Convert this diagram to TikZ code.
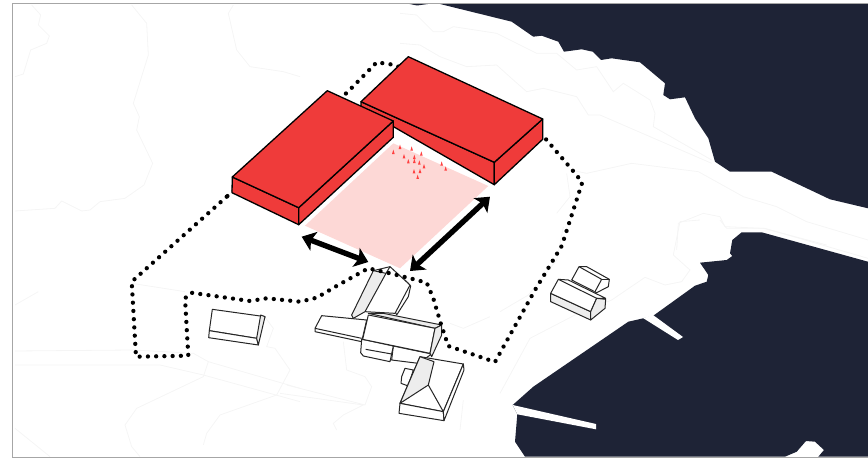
\documentclass[tikz,border=0pt]{standalone}
\usepackage{xcolor}
\usetikzlibrary{arrows.meta}
\definecolor{waterc}{HTML}{1E2336}
\definecolor{blockc}{HTML}{EF3B3A}
\definecolor{plazac}{HTML}{FDD8D6}
\begin{document}
\begin{tikzpicture}[
  x=1pt, y=-1pt,
  frame/.style={draw=black!35, line width=0.8pt},
  water/.style={fill=waterc},
  pier/.style={fill=white},
  contour/.style={draw=black!4, line width=0.8pt},
  block/.style={draw=black, fill=blockc, line width=1.3pt, line join=round},
  house/.style={draw=black!85, fill=white, line width=1pt, line join=round},
  roof/.style={house, fill=black!7},
  route/.style={draw=black, line width=4.3pt, line cap=round, dash pattern=on 0pt off 8.25pt},
  dim/.style={draw=black, line width=5.4pt, {Stealth[length=13pt,width=20pt,inset=3pt]}-{Stealth[length=13pt,width=20pt,inset=3pt]}},
  pers/.style={fill=red!75!white}]
\useasboundingbox (0,0) rectangle (868,460);

\fill[water] (407,3.5) -- (417,5.5) -- (428,4) -- (440,4) -- (511.7,21.7) -- (533.3,36.7) -- (541.7,35.7) -- (558.3,41.7) -- (564,51.7) -- (581.7,49.3) -- (592.7,51.7) -- (601,60) -- (611.7,58.3) -- (640,62.3) -- (665,83.3) -- (663.3,95) -- (670,99.3) -- (685,97.3) -- (695,118.3) -- (708.3,138.3) -- (715,161.7) -- (730,171.7) -- (771.7,171.7) -- (830,199.3) -- (868,208.3) -- (868,3.5) -- cycle;
\fill[water] (868,261.7) -- (761.7,232.3) -- (741.7,232.3) -- (732.3,240) -- (730,253.3) -- (732.3,256) -- (726.7,260) -- (700,262.7) -- (708.3,275) -- (706.7,281.7) -- (695,285.7) -- (653.3,315.7) -- (643.3,318.3) -- (628.3,321.7) -- (533.3,386.7) -- (512.7,405) -- (517.3,414.3) -- (515,441.7) -- (525,456.7) -- (785,456.7) -- (796.7,451.7) -- (806,441) -- (815,441.7) -- (824,450) -- (818.3,456.7) -- (868,456.7) -- cycle;
\fill[pier] (643,318) -- (653,315) -- (683,337) -- (678,340) -- cycle;
\fill[pier] (512.7,405) -- (596,424) -- (596,429.3) -- (517.3,414.3) -- cycle;

\begin{scope}[scale=1/3]
\draw[contour] (45,230) -- (70,222) -- (92,150) -- (140,130) -- (148,108) -- (115,75) -- (122,45) -- (95,15);
\draw[contour] (395,15) -- (440,70) -- (445,165) -- (400,310) -- (418,350) -- (410,390) -- (458,490) -- (432,555) -- (375,595) -- (300,605) -- (270,630) -- (245,633) -- (185,603) -- (165,625) -- (45,633);
\draw[contour] (700,15) -- (685,40) -- (710,150) -- (750,200) -- (850,215) -- (900,230);
\draw[contour] (45,1053) -- (400,1050) -- (580,1060) -- (625,1085) -- (900,1165);
\draw[contour] (45,1095) -- (480,1095) -- (610,1125) -- (900,1205);
\draw[contour] (375,1275) -- (410,1225) -- (610,1130) -- (625,1085);
\draw[contour] (610,1335) -- (620,1300) -- (660,1245) -- (830,1185) -- (870,1110) -- (825,1045) -- (800,1040) -- (820,985) -- (790,945);
\draw[contour] (395,850) -- (555,875);
\draw[contour] (45,915) -- (115,875);
\draw[contour] (45,1285) -- (150,1370);
\draw[contour] (375,1275) -- (395,1340) -- (420,1370);
\end{scope}
\begin{scope}[shift={(200,260)},scale=1/3]
\draw[contour] (240,400) -- (490,435) -- (430,465) -- (400,490) -- (410,510);
\draw[contour] (260,375) -- (495,435) -- (515,380) -- (495,350) -- (440,330) -- (430,245);
\draw[contour] (750,190) -- (790,205) -- (870,170);
\draw[contour] (790,420) -- (780,510);
\end{scope}
\begin{scope}[shift={(500,220)},scale=1/3]
\draw[contour] (0,275) -- (85,225) -- (170,120) -- (190,20);
\draw[contour] (0,520) -- (90,355) -- (225,285) -- (335,240) -- (435,172) -- (495,195) -- (545,185) -- (570,150) -- (520,105) -- (540,5) -- (600,0);
\draw[contour] (660,0) -- (680,25) -- (795,25) -- (1104,115);
\end{scope}
\begin{scope}[shift={(400,0)},scale=1/3]
\draw[contour] (0,40) -- (50,45) -- (100,95) -- (130,95) -- (160,80) -- (290,100) -- (410,160) -- (470,160) -- (530,210) -- (590,200) -- (640,275) -- (670,250) -- (750,300) -- (765,340) -- (760,380) -- (935,480);
\draw[contour] (0,130) -- (60,135) -- (120,170) -- (200,200) -- (290,195) -- (340,240) -- (380,275) -- (430,265) -- (530,290) -- (565,345) -- (600,345) -- (935,490);
\draw[contour] (510,510) -- (560,520) -- (695,490) -- (895,515) -- (1030,590) -- (1130,620) -- (1220,665) -- (1404,720);
\draw[contour] (500,520) -- (510,590) -- (470,640);
\draw[contour] (830,750) -- (835,670) -- (910,640) -- (960,650) -- (975,680) -- (1090,685) -- (1280,735);
\end{scope}

\begin{scope}[shift={(200,260)},scale=1/3]
\draw[house] (37,148) -- (195,170) -- (170,235) -- (28,212) -- cycle;
\draw[house] (28,212) -- (170,235) -- (175,255) -- (26,233) -- cycle;
\draw[roof] (182,165) -- (195,170) -- (175,255) -- (170,235) -- cycle;
\draw[house] (615,60) -- (632,78) -- (625,110) -- (590,165) -- (560,100) -- cycle;
\draw[house] (520,32) -- (570,20) -- (630,75) -- (585,160) -- (495,155) -- cycle;
\draw[roof] (455,165) -- (520,32) -- (558,40) -- (495,155) -- (460,175) -- cycle;
\draw[house] (558,40) -- (570,20);
\draw[house] (365,167) -- (500,180) -- (485,245) -- (345,215) -- (345,205) -- cycle;
\draw[house] (345,205) -- (485,235);
\draw[house] (580,258) -- (695,282) -- (655,310) -- (575,300) -- cycle;
\draw[house] (497,240) -- (580,258) -- (570,305) -- (490,288) -- (482,278) -- (485,238) -- cycle;
\draw[house] (497,268) -- (575,282);
\draw[roof] (505,160) -- (550,160) -- (725,195) -- (705,205) -- cycle;
\draw[house] (505,165) -- (705,205) -- (690,280) -- (488,238) -- cycle;
\draw[roof] (705,205) -- (725,195) -- (725,225) -- (695,290) -- (690,280) -- cycle;
\draw[house] (615,325) -- (640,330) -- (625,378) -- (603,370) -- (605,350) -- cycle;
\draw[house] (660,290) -- (790,312) -- (730,455) -- (600,430) -- cycle;
\draw[house] (600,430) -- (730,455) -- (732,482) -- (597,460) -- cycle;
\draw[house] (790,312) -- (792,330) -- (732,482) -- (730,455) -- cycle;
\draw[roof] (600,430) -- (660,290) -- (702,305) -- (685,375) -- cycle;
\draw[house] (685,375) -- (730,455);
\end{scope}
\begin{scope}[shift={(500,220)},scale=1/3]
\draw[house] (237,140) -- (260,140) -- (328,178) -- (325,200) -- (290,218) -- (215,180) -- cycle;
\draw[house] (237,140) -- (305,178) -- (285,215);
\draw[house] (305,178) -- (328,178);
\draw[roof] (152,220) -- (272,275) -- (272,300) -- (152,245) -- cycle;
\draw[house] (175,178) -- (205,180) -- (317,235) -- (290,235) -- (272,275) -- (152,220) -- cycle;
\draw[house] (175,178) -- (290,235);
\draw[roof] (290,235) -- (317,238) -- (315,265) -- (272,300) -- (272,275) -- cycle;
\end{scope}

\draw[route] (226.7,196.7) -- (131.7,281.7) -- (136,356.7) -- (188.3,355.7) -- (185,298.3) -- (191,292.7) -- (250,301) -- (266.7,298.3) -- (300,301.7) -- (316.7,297.7) -- (338.3,285) -- (368.3,268.3) -- (390,273.3) -- (410,278.3) -- (426.7,282.7) -- (433.3,298.3) -- (440.7,323.3) -- (448.3,346) -- (495,362) -- (535,290) -- (561.7,246) -- (582.3,182.3) -- (571.7,169.3) -- (544.3,137.3) -- (395,65) -- (376.7,62.3) -- (348,91.7) -- cycle;

\fill[plazac] (393.3,143.3) -- (488.3,186) -- (400,268.3) -- (305,225.7) -- cycle;
\foreach \px/\py in {40/65,60/50,72/78,85/93,95/55,103/80,103/92,118/97,124/70,132/108,120/122,102/123,113/140,185/100,197/115}
  \fill[pers, shift={(380,130)}, scale=1/3] (\px-4,\py+7) -- (\px,\py-6) -- (\px+4,\py+7) -- cycle;

\draw[block] (361,101.7) -- (361,108) -- (494.3,184.7) -- (494.3,162.3) -- cycle;
\draw[block] (494.3,162.3) -- (494.3,184.7) -- (542.7,139.3) -- (542.7,119) -- cycle;
\draw[block] (408.3,56.7) -- (542.7,119) -- (494.3,162.3) -- (361,101.7) -- cycle;
\draw[block] (232.3,177) -- (232,192.7) -- (298.7,224.7) -- (298.7,207.7) -- cycle;
\draw[block] (298.7,207.7) -- (298.7,224.7) -- (393.3,137.3) -- (393.3,121) -- cycle;
\draw[block] (327.3,90.7) -- (393.3,121) -- (298.7,207.7) -- (232.3,177) -- cycle;

\coordinate (dimwest) at (301.7,236.7);
\coordinate (dimsouth) at (368.3,262);
\coordinate (dimeast) at (490,196.7);
\coordinate (dimnorth) at (410,271);
\draw[dim] (dimwest) -- (dimsouth);
\draw[dim] (dimnorth) -- (dimeast);

\draw[frame] (870,3.5) -- (12.5,3.5) -- (12.5,457) -- (870,457);
\end{tikzpicture}
\end{document}
